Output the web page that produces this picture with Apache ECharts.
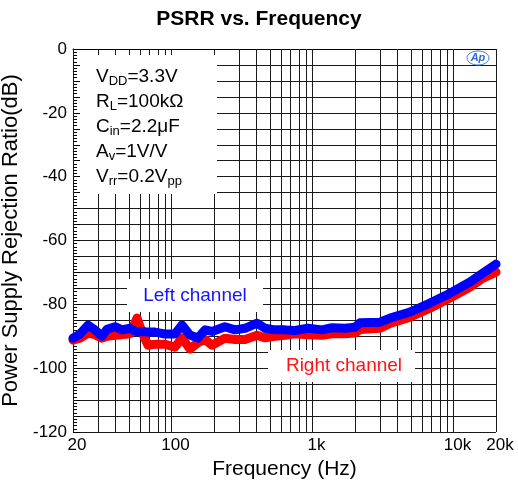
<!DOCTYPE html>
<html><head><meta charset="utf-8">
<script src="https://cdn.jsdelivr.net/npm/echarts@6/dist/echarts.min.js"></script>
<style>html,body{margin:0;padding:0;background:#fff}#c{width:518px;height:491px}</style>
</head><body><div id="c"></div>
<script>
const freq = [20,22.4,25.6,28.6,32.1,34.8,39.7,44.5,50.7,56.9,62.7,68.1,76.3,82.8,89.9,105.8,118.6,135,154,172.6,193.6,239,282,332,404,460,542,638,750,928,1166,1374,1698,2000,2168,3008,3540,4910,6800,9440,13080,16180,20000];
const leftCh = [-90.6,-89.3,-86.5,-88,-90,-87.8,-87,-88,-87.5,-88.7,-88.5,-88.7,-88.7,-89,-89.3,-89.3,-86.5,-89.6,-90.6,-88,-88.5,-87,-88,-87.5,-85.9,-87.5,-88,-88,-88.2,-87.5,-88,-87.3,-87.5,-87.2,-85.8,-85.6,-84.3,-82.4,-79.6,-76.5,-73,-70.2,-67.4];
const rightCh = [-91.2,-90.6,-89,-89.5,-90.6,-90,-89.7,-89.5,-89.2,-84.3,-89.5,-92.8,-92.5,-92.5,-92.5,-93.4,-90.5,-94,-92,-91,-92.8,-90.6,-91,-91,-89.7,-90.5,-90,-89.7,-89.2,-89.5,-89.7,-89.2,-89.2,-89,-87.9,-87.5,-86,-84,-81.2,-78,-74.6,-71.8,-69.9];
const xLabels = [20,100,1000,10000,20000];
const xGrid = [20,30,40,50,60,70,80,90,100,200,300,400,500,600,700,800,900,1000,2000,3000,4000,5000,6000,7000,8000,9000,10000,20000];
const conditions = [
  ['V','DD','=3.3V',''],
  ['R','L','=100k\u03A9',''],
  ['C','in','=2.2\u03BCF',''],
  ['A','v','=1V/V',''],
  ['V','rr','=0.2V','pp']
];
const FONT = 'Liberation Sans, Arial, sans-serif';
const chart = echarts.init(document.getElementById('c'));
function fmtF(v){ v=Math.round(v); return v>=1000 ? (v/1000)+'k' : String(v); }
const rich = {n:{fontSize:19,fontFamily:FONT,color:'#000'}, s:{fontSize:13,fontFamily:FONT,color:'#000',padding:[10,0,0,0]}};
const condText = conditions.map(c => '{n|'+c[0]+'}{s|'+c[1]+'}{n|'+c[2]+'}' + (c[3]?'{s|'+c[3]+'}':'')).join('\n');
chart.setOption({
  animation:false,
  title:{text:'PSRR vs. Frequency',left:'center',top:4,textStyle:{fontFamily:FONT,fontSize:21,fontWeight:'bold',color:'#000'}},
  grid:{left:73,top:49,right:22,bottom:59,containLabel:false,outerBoundsMode:'none'},
  xAxis:{type:'log',logBase:10,min:20,max:20000,
    name:'Frequency (Hz)',nameLocation:'middle',nameGap:24,
    nameTextStyle:{fontFamily:FONT,fontSize:21,color:'#000'},
    axisLine:{lineStyle:{color:'#000',width:1}},
    axisTick:{show:false},
    axisLabel:{customValues:xLabels,formatter:fmtF,fontFamily:FONT,fontSize:17,color:'#000',margin:5,padding:[0,0,0,8]},
    splitLine:{show:false},minorTick:{show:false},minorSplitLine:{show:false}},
  yAxis:{type:'value',min:-120,max:0,interval:5,
    name:'Power Supply Rejection Ratio(dB)',nameLocation:'middle',nameGap:40,
    nameTextStyle:{fontFamily:FONT,fontSize:22,color:'#000'},
    axisLine:{show:true,lineStyle:{color:'#000',width:1}},
    axisTick:{show:true,inside:true,length:7,lineStyle:{color:'#000'}},
    minorTick:{show:true,splitNumber:5,length:4,lineStyle:{color:'#000'}},
    axisLabel:{formatter:v=> (Math.round(v)%20===0 ? String(Math.round(v)) : ''),fontFamily:FONT,fontSize:17,color:'#000',margin:6},
    splitLine:{show:true,lineStyle:{color:'#1a1a1a',width:1}}},
  graphic:[
    {type:'rect',z:1.5,shape:{x:80,y:55,width:137,height:139},style:{fill:'#fff'}},
    {type:'rect',z:1.5,shape:{x:127,y:279,width:136,height:33},style:{fill:'#fff'}},
    {type:'rect',z:1.5,shape:{x:268,y:350,width:147,height:32},style:{fill:'#fff'}},
    {type:'text',z:5,left:96,top:64,style:{text:condText,rich:rich,lineHeight:25,fill:'#000',font:'19px '+FONT}},
    {type:'text',z:5,x:195,y:296,style:{text:'Left channel',fill:'#1414ff',font:'19px '+FONT,textAlign:'center',textVerticalAlign:'middle'}},
    {type:'text',z:5,x:344,y:366,style:{text:'Right channel',fill:'#ff1414',font:'19px '+FONT,textAlign:'center',textVerticalAlign:'middle'}},
    {type:'ellipse',z:5,shape:{cx:478,cy:58,rx:11,ry:7},style:{fill:'none',stroke:'#3a7bd5',lineWidth:1}},
    {type:'text',z:5,x:478,y:58,style:{text:'Ap',fill:'#2a6bd0',font:'italic bold 11px '+FONT,textAlign:'center',textVerticalAlign:'middle'}}
  ],
  series:[
    {name:'grid',type:'line',z:1,data:[],silent:true,
      markLine:{z:1,silent:true,symbol:'none',label:{show:false},animation:false,
        lineStyle:{type:'solid',color:'#1a1a1a',width:1},
        data:xGrid.map(v=>({xAxis:v}))}},
    {name:'Right channel',type:'line',z:3,showSymbol:false,data:freq.map((f,i)=>[f,rightCh[i]]),lineStyle:{color:'#ff0000',width:9,cap:'round',join:'round'},itemStyle:{color:'#ff0000'}},
    {name:'Left channel',type:'line',z:4,showSymbol:false,data:freq.map((f,i)=>[f,leftCh[i]]),lineStyle:{color:'#0000ff',width:9,cap:'round',join:'round'},itemStyle:{color:'#0000ff'}}
  ]
});
</script></body></html>
